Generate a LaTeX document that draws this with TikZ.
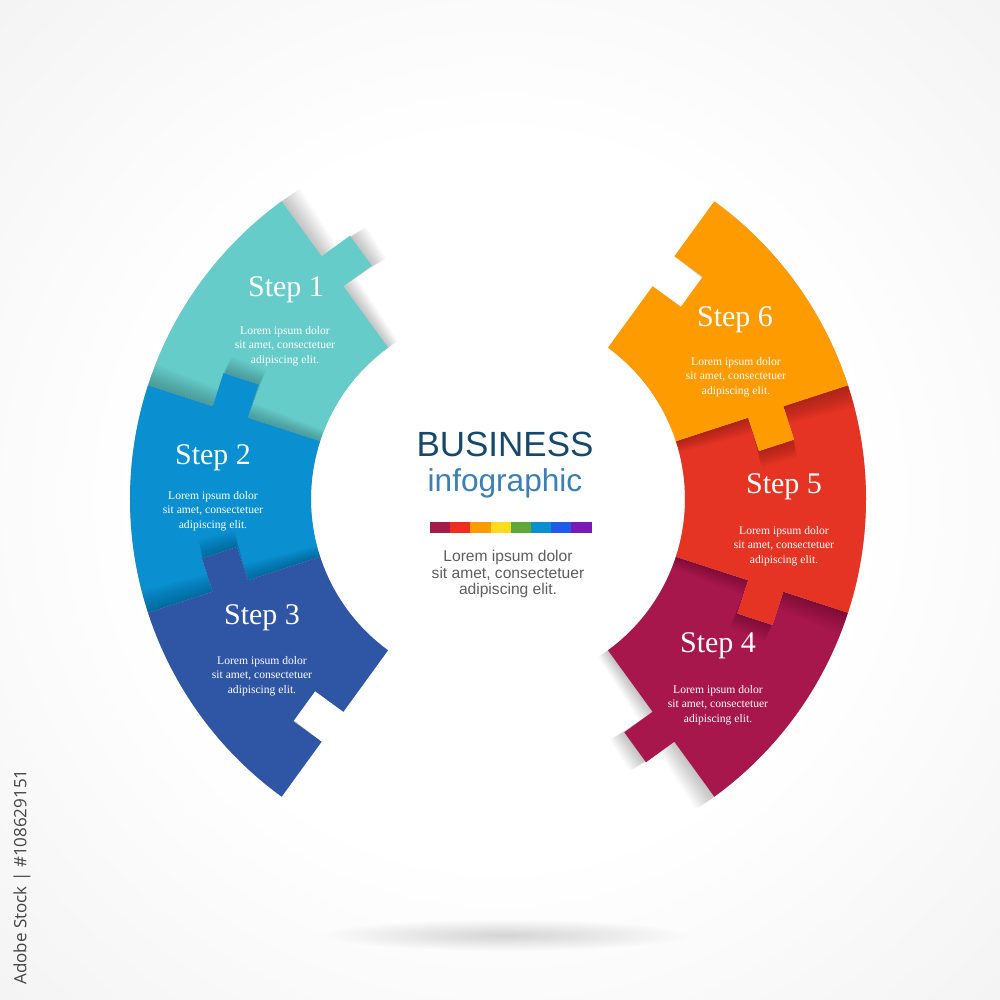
\documentclass[tikz,border=0pt]{standalone}
\usepackage{fontspec}
\setmainfont{Liberation Serif}
\newfontfamily\arialfont{Liberation Sans}
\newfontfamily\sidefont{Open Sans}
\usetikzlibrary{calc,fadings}
\definecolor{cteal}{HTML}{66CCCA}
\definecolor{cblue}{HTML}{0A8FD0}
\definecolor{cnavy}{HTML}{2F55A5}
\definecolor{corange}{HTML}{FD9B00}
\definecolor{cred}{HTML}{E53423}
\definecolor{cpurple}{HTML}{A8174B}
\definecolor{bizblue}{HTML}{16486C}
\definecolor{infoblue}{HTML}{3D7FB5}
\definecolor{midgray}{HTML}{5E5E5E}
\definecolor{sidegray}{HTML}{444444}
\definecolor{bar1}{HTML}{A51C4B}
\definecolor{bar2}{HTML}{F02D1E}
\definecolor{bar3}{HTML}{FF9A00}
\definecolor{bar4}{HTML}{FDDB1E}
\definecolor{bar5}{HTML}{5EA835}
\definecolor{bar6}{HTML}{0A8FD0}
\definecolor{bar7}{HTML}{1F5DE8}
\definecolor{bar8}{HTML}{7A18B8}
\definecolor{bgA}{HTML}{EDEDED}
\definecolor{bgB}{HTML}{DDDDDD}
\pgfdeclareradialshading{bgshade}{\pgfpoint{0bp}{0bp}}{color(0bp)=(white); color(18bp)=(white); color(46bp)=(bgA); color(71bp)=(bgB)}
\tikzfading[name=softfade, inner color=transparent!0, outer color=transparent!100]
\newcommand\drawpiece[1]{\fill[#1] (-18:187) -- (-18:263) -- ($(-18:263)+(-108:35)$) -- ($(-18:300)+(-108:35)$) -- (-18:300) -- (-18:368) arc[start angle=-18,end angle=18,radius=368] -- (18:300) -- ($(18:300)+(-72:35)$) -- ($(18:263)+(-72:35)$) -- (18:263) -- (18:187) arc[start angle=18,end angle=-18,radius=187] -- cycle;}
\newcommand\placepiece[2]{%
  \foreach \k in {1,...,10}{\begin{scope}[rotate={#1-\k*0.35}]\drawpiece{black,opacity=0.025}\end{scope}}%
  \begin{scope}[rotate=#1]\drawpiece{#2}\end{scope}}
\tikzset{
  steptitle/.style={text=white, font=\fontsize{15}{18}\selectfont, anchor=base, inner sep=0pt},
  steptext/.style={text=white, font=\fontsize{5.8}{7.3}\selectfont, align=center, inner sep=0pt}
}
\begin{document}
\begin{tikzpicture}[x=0.5pt,y=0.5pt]
\useasboundingbox (-498,-501) rectangle (502,499);
\shade[shading=bgshade] (-498,-501) rectangle (502,499);
% floor shadow
\fill[black, opacity=0.16, path fading=softfade] (7,-436) ellipse (185 and 16);
% left pieces
\placepiece{144}{cteal}
\placepiece{180}{cblue}
\placepiece{216}{cnavy}
% right pieces
\placepiece{-36}{cpurple}
\placepiece{0}{cred}
\placepiece{36}{corange}
% step texts
\node[steptitle] (t1) at (-212,202) {Step 1};
\node[steptext] (l1) at (-213,153) {Lorem ipsum dolor\\sit amet, consectetuer\\adipiscing elit.};
\node[steptitle] (t2) at (-285,34) {Step 2};
\node[steptext] (l2) at (-285,-12) {Lorem ipsum dolor\\sit amet, consectetuer\\adipiscing elit.};
\node[steptitle] (t3) at (-236,-126) {Step 3};
\node[steptext] (l3) at (-236,-177) {Lorem ipsum dolor\\sit amet, consectetuer\\adipiscing elit.};
\node[steptitle] (t6) at (237,172) {Step 6};
\node[steptext] (l6) at (238,122) {Lorem ipsum dolor\\sit amet, consectetuer\\adipiscing elit.};
\node[steptitle] (t5) at (286,5) {Step 5};
\node[steptext] (l5) at (286,-47) {Lorem ipsum dolor\\sit amet, consectetuer\\adipiscing elit.};
\node[steptitle] (t4) at (220,-153) {Step 4};
\node[steptext] (l4) at (220,-206) {Lorem ipsum dolor\\sit amet, consectetuer\\adipiscing elit.};
% center
\node[font=\arialfont\fontsize{17.5}{20}\selectfont, text=bizblue, anchor=base, inner sep=0pt] (biz) at (7,42) {BUSINESS};
\node[font=\arialfont\fontsize{15.8}{18}\selectfont, text=infoblue, anchor=base, inner sep=0pt] (info) at (7,7) {infographic};
\foreach \c [count=\i from 0] in {bar1,bar2,bar3,bar4,bar5,bar6,bar7,bar8}{
  \fill[\c] ({-68+\i*20.2},-23) rectangle ({-68+(\i+1)*20.2},-34);
}
\node[font=\arialfont\fontsize{7.8}{8.4}\selectfont, text=midgray, align=center, inner sep=0pt] (clorem) at (10,-75) {Lorem ipsum dolor\\sit amet, consectetuer\\adipiscing elit.};
% side label
\node[rotate=90, text=sidegray, font=\sidefont\fontsize{8.5}{10}\selectfont, inner sep=0pt] (stockid) at (-476,-378) {Adobe Stock | \#108629151};
\end{tikzpicture}
\end{document}
